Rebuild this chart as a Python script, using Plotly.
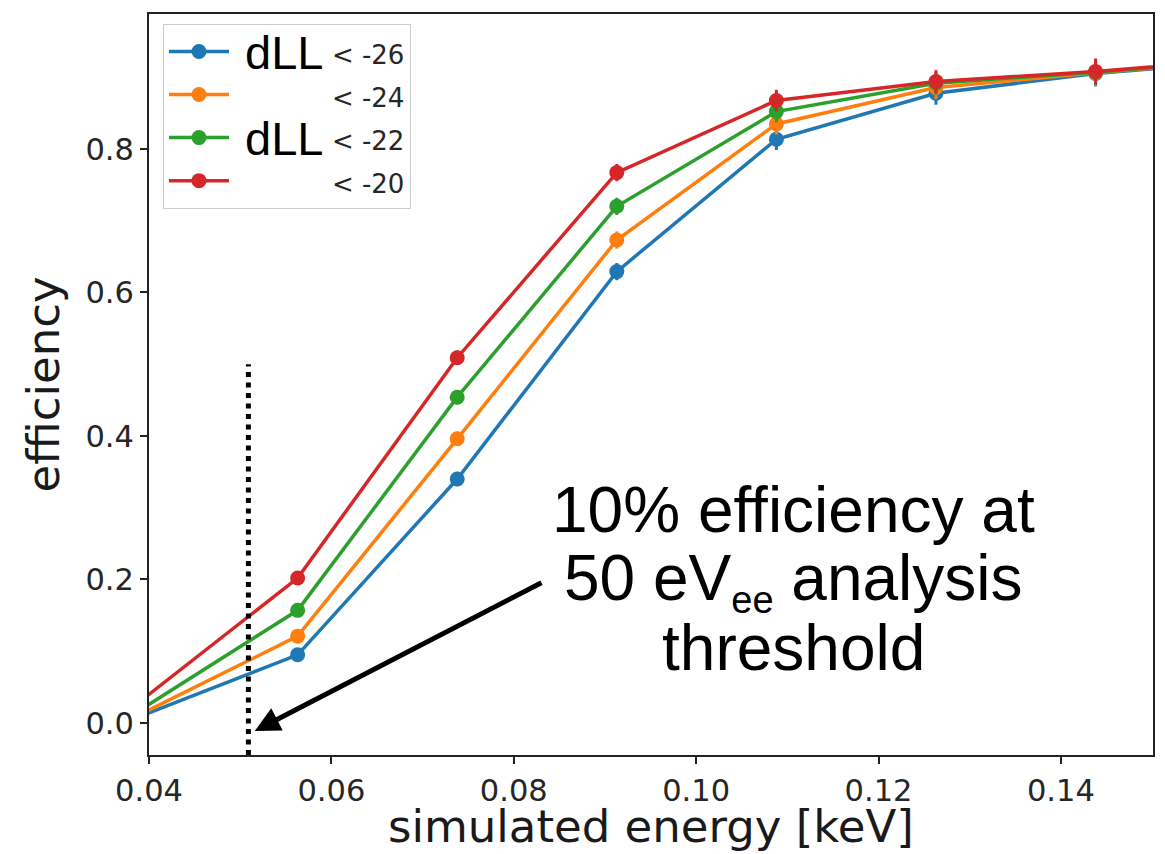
import plotly.graph_objects as go

# Simulated recoil energies (keV) and selection efficiency for each dLL cut
energy_kev = [0.0387, 0.0563, 0.0738, 0.0913, 0.1088, 0.1263, 0.1438, 0.1613]
eff_dll_26 = [0.0075, 0.095, 0.340, 0.629, 0.8135, 0.8776, 0.905, 0.924]
eff_dll_24 = [0.0098, 0.121, 0.396, 0.673, 0.8348, 0.8856, 0.906, 0.925]
eff_dll_22 = [0.0155, 0.157, 0.454, 0.720, 0.852, 0.8915, 0.907, 0.925]
eff_dll_20 = [0.027, 0.202, 0.509, 0.767, 0.8674, 0.8938, 0.908, 0.926]
eff_err = [0.004, 0.007, 0.010, 0.012, 0.015, 0.016, 0.018, 0.018]

cut_labels = ["< -26", "< -24", "< -22", "< -20"]
series = [eff_dll_26, eff_dll_24, eff_dll_22, eff_dll_20]
colors = ["#1f77b4", "#ff7f0e", "#2ca02c", "#d62728"]

threshold_kev = 0.0509
threshold_top = 0.5
arrow_tip = (0.0516, -0.011)
arrow_tail = (0.0832, 0.1965)

x_range = [0.04, 0.1501]
y_range = [-0.0446, 0.988]

tick_font = dict(family="DejaVu Sans", size=30.5, color="#262626")
label_font = dict(family="DejaVu Sans", size=45, color="#1a1a1a")
pad = "\u00a0" * 10

fig = go.Figure()

for label, vals, col in zip(cut_labels, series, colors):
    fig.add_trace(go.Scatter(
        x=energy_kev, y=vals,
        mode="lines+markers",
        name=f"{pad}<span style='font-size:26px'>{label}</span>",
        line=dict(color=col, width=3.5),
        marker=dict(color=col, size=15),
        error_y=dict(type="data", array=eff_err, visible=True,
                     color=col, thickness=3, width=0),
    ))

# dotted marker of the analysis threshold
fig.add_shape(type="line", xref="x", yref="y",
              x0=threshold_kev, x1=threshold_kev,
              y0=y_range[0], y1=threshold_top,
              line=dict(color="black", width=5, dash="5px,5.5px"))

# arrow pointing at the threshold
fig.add_annotation(x=arrow_tip[0], y=arrow_tip[1], ax=arrow_tail[0], ay=arrow_tail[1],
                   xref="x", yref="y", axref="x", ayref="y",
                   text="", showarrow=True, arrowhead=2, arrowsize=1,
                   arrowwidth=5, arrowcolor="black", standoff=0)

note_font = dict(family="Liberation Sans, Arial", size=64, color="black")
note_lines = ["10% efficiency at",
              "50 eV<sub><span style='font-size:38px'>ee</span></sub> analysis",
              "threshold"]
note_y = [510, 581, 648]
for txt, ypx in zip(note_lines, note_y):
    fig.add_annotation(x=(795 - 149) / 1006, y=(755 - ypx) / 741,
                       xref="paper", yref="paper", text=txt, showarrow=False,
                       xanchor="center", yanchor="middle", font=note_font)

# large "dLL" captions beside the legend entries
for ypx in [52, 138]:
    fig.add_annotation(x=(284 - 149) / 1006, y=(755 - ypx) / 741,
                       xref="paper", yref="paper", text="dLL", showarrow=False,
                       xanchor="center", yanchor="middle",
                       font=dict(family="Liberation Sans, Arial", size=47, color="black"))

# x-axis caption placed below the tick labels
fig.add_annotation(x=0.5, y=(755 - 798) / 741, xref="paper", yref="paper",
                   text="simulated energy [keV]", showarrow=False,
                   xanchor="center", yanchor="top", font=label_font)

axis_common = dict(showgrid=False, zeroline=False, showline=True, mirror=True,
                   linecolor="#222222", linewidth=2, ticks="outside", ticklen=7,
                   tickwidth=2, tickcolor="#222222", tickfont=tick_font)

fig.update_xaxes(range=x_range, tick0=0.04, dtick=0.02, tickformat=".2f",
                 automargin=False, **axis_common)
fig.update_yaxes(range=y_range, tick0=0, dtick=0.2, tickformat=".1f",
                 title=dict(text="efficiency", font=label_font, standoff=12),
                 **axis_common)

fig.update_layout(
    width=1165, height=854,
    margin=dict(l=149, r=10, t=14, b=99),
    plot_bgcolor="white", paper_bgcolor="white",
    showlegend=True,
    legend=dict(x=(163 - 149) / 1006, y=(755 - 24) / 741, xanchor="left", yanchor="top",
                bgcolor="white", bordercolor="#cccccc", borderwidth=1,
                font=dict(family="DejaVu Sans", size=30.8, color="#262626"),
                itemwidth=60),
)

fig.write_html("out.html")
